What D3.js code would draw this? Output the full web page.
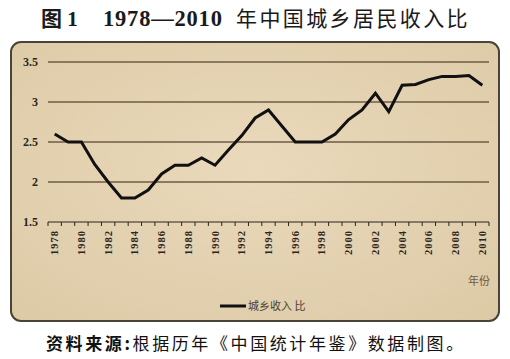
<!DOCTYPE html>
<html>
<head>
<meta charset="utf-8">
<script src="https://cdn.jsdelivr.net/npm/d3@7"></script>
<style>
  body { margin: 0; background: #fff; }
  svg { display: block; }
</style>
</head>
<body>
<svg id="chart" width="510" height="359"></svg>
<script>
var width = 510, height = 359

// data
var years = d3.range(1978, 2011)
var ratio = [2.60, 2.50, 2.50, 2.22, 2.00, 1.80, 1.80, 1.90, 2.10, 2.21, 2.21, 2.30, 2.21,
             2.40, 2.58, 2.80, 2.90, 2.70, 2.50, 2.50, 2.50, 2.60, 2.78, 2.90, 3.11, 2.88,
             3.21, 3.22, 3.28, 3.32, 3.32, 3.33, 3.21]
var yTicks = [1.5, 2, 2.5, 3, 3.5]
var seriesName = "城乡收入 比"

var svg = d3.select("#chart")
var defs = svg.append("defs")

// parchment look
var grad = defs.append("radialGradient").attr("id", "paper")
    .attr("cx", "50%").attr("cy", "45%").attr("r", "75%")
grad.append("stop").attr("offset", "0%").attr("stop-color", "#ead9bb")
grad.append("stop").attr("offset", "100%").attr("stop-color", "#dccaa6")

var title = svg.append("text")
    .attr("y", 26)
    .attr("font-family", "'Liberation Serif', 'Noto Sans CJK SC', serif")
    .attr("font-size", 21)
    .attr("fill", "#1a1a1a")
title.append("tspan").attr("x", 41).attr("font-weight", "bold").text("图 1")
title.append("tspan").attr("x", 103).attr("font-weight", "bold").attr("font-size", 22.5)
    .attr("letter-spacing", 0.8).text("1978—2010")
title.append("tspan").attr("x", 236).attr("letter-spacing", 2.4).text("年中国城乡居民收入比")

svg.append("rect")
    .attr("x", 11).attr("y", 42)
    .attr("width", 488).attr("height", 279)
    .attr("rx", 10)
    .attr("fill", "url(#paper)")
    .attr("stroke", "#4a4438")
    .attr("stroke-width", 2)

var x = d3.scaleBand()
    .domain(years)
    .range([48, 489])

var y = d3.scaleLinear()
    .domain([1.5, 3.5])
    .range([222, 62])

var g = svg.append("g")

// gridlines
g.selectAll("line.grid")
    .data(yTicks.slice(1))
    .enter()
    .append("line")
        .attr("class", "grid")
        .attr("x1", 48).attr("x2", 489)
        .attr("y1", d => y(d)).attr("y2", d => y(d))
        .attr("stroke", "#6e5c46")
        .attr("stroke-width", 1.3)

// y labels
g.selectAll("text.ylab")
    .data(yTicks)
    .enter()
    .append("text")
        .attr("class", "ylab")
        .attr("x", 38)
        .attr("y", d => y(d) + 4)
        .attr("text-anchor", "end")
        .attr("font-family", "'Liberation Serif', serif")
        .attr("font-weight", "bold")
        .attr("font-size", 12)
        .attr("fill", "#2a251e")
        .text(d => d)

// x axis, ticks on the band edges
g.append("line")
    .attr("x1", 48).attr("x2", 489)
    .attr("y1", y(1.5)).attr("y2", y(1.5))
    .attr("stroke", "#2a251e").attr("stroke-width", 1.2)
g.selectAll("line.tick")
    .data(years.concat([2011]))
    .enter()
    .append("line")
        .attr("class", "tick")
        .attr("x1", d => d == 2011 ? x.range()[1] : x(d))
        .attr("x2", d => d == 2011 ? x.range()[1] : x(d))
        .attr("y1", y(1.5)).attr("y2", y(1.5) + 4)
        .attr("stroke", "#2a251e").attr("stroke-width", 1)

g.selectAll("text.xlab")
    .data(years.filter(d => d % 2 == 0))
    .enter()
    .append("text")
        .attr("class", "xlab")
        .attr("transform", d => "translate(" + (x(d) + x.bandwidth() / 2 + 3.5) + "," + (y(1.5) + 8) + ") rotate(-90)")
        .attr("text-anchor", "end")
        .attr("font-family", "'Liberation Serif', serif")
        .attr("font-weight", "bold")
        .attr("font-size", 10.5)
        .attr("letter-spacing", 1)
        .attr("fill", "#2a251e")
        .text(d => d)

svg.append("text")
    .attr("x", 490).attr("y", 285)
    .attr("text-anchor", "end")
    .attr("font-family", "'Noto Sans CJK SC', serif")
    .attr("font-size", 11)
    .attr("fill", "#6b5c48")
    .text("年份")

// the line
var line = d3.line()
    .x((d, i) => x(years[i]) + x.bandwidth() / 2)
    .y(d => y(d))

g.append("path")
    .datum(ratio)
    .attr("d", line)
    .attr("fill", "none")
    .attr("stroke", "#111")
    .attr("stroke-width", 3)
    .attr("stroke-linejoin", "miter")

// legend
svg.append("line")
    .attr("x1", 220).attr("x2", 246)
    .attr("y1", 306).attr("y2", 306)
    .attr("stroke", "#111").attr("stroke-width", 3)
svg.append("text")
    .attr("x", 248).attr("y", 310)
    .attr("font-family", "'Noto Sans CJK SC', serif")
    .attr("font-size", 11)
    .attr("fill", "#4a3f33")
    .text(seriesName)

// source note
var src = svg.append("text")
    .attr("x", 46).attr("y", 350)
    .attr("font-family", "'Noto Sans CJK SC', sans-serif")
    .attr("font-size", 17)
    .attr("letter-spacing", 2.6)
    .attr("fill", "#111")
src.append("tspan").attr("font-weight", "bold").text("资料来源:")
src.append("tspan").text("根据历年《中国统计年鉴》数据制图。")
</script>
</body>
</html>
